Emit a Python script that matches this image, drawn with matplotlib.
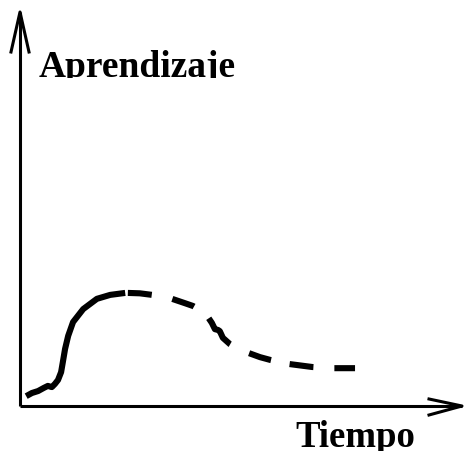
import matplotlib
matplotlib.use("Agg")
import matplotlib.pyplot as plt
from matplotlib.patches import Rectangle

# Curve values (tiempo, aprendizaje), both in 0..10 units
t_solid = [0.14, 0.27, 0.41, 0.54, 0.63, 0.72, 0.79, 0.86, 0.93, 0.97, 1.02,
           1.09, 1.20, 1.43, 1.74, 2.04, 2.38]
l_solid = [0.25, 0.33, 0.38, 0.46, 0.51, 0.48, 0.56, 0.66, 0.86, 1.12, 1.45,
           1.78, 2.13, 2.46, 2.72, 2.82, 2.87]

t_dash = [2.44, 2.71, 2.99, 3.24, 3.44, 3.73, 3.91, 4.07, 4.25, 4.34, 4.41,
          4.48, 4.52, 4.59, 4.75, 4.98, 5.16, 5.43, 5.66, 6.06, 6.61, 7.06, 7.58]
l_dash = [2.87, 2.86, 2.82, 2.77, 2.72, 2.61, 2.54, 2.44, 2.26, 2.11, 1.95,
          1.93, 1.90, 1.73, 1.57, 1.42, 1.35, 1.24, 1.17, 1.07, 0.99, 0.96, 0.96]

x_label = "Tiempo"
y_label = "Aprendizaje"

plt.rcParams['lines.scale_dashes'] = False

W, H = 466, 452
fig = plt.figure(figsize=(W / 100, H / 100), dpi=100)
ax = fig.add_axes([20 / W, (H - 407) / H, 442 / W, 394 / H])
ax.set_xlim(0, 10)
ax.set_ylim(0, 10)
ax.axis('off')

# hand-drawn look: uneven dashes (pixel lengths -> points)
dash_px = [24, 21, 23, 19, 35, 21, 23, 19, 24, 21, 24, 60]
dash_pt = [d * 0.72 for d in dash_px]

# curve
ax.plot(t_solid, l_solid, color='black', lw=4.4, solid_capstyle='butt',
        solid_joinstyle='round', clip_on=False)
ax.plot(t_dash, l_dash, color='black', lw=4.4, dashes=dash_pt,
        dash_capstyle='butt', dash_joinstyle='round', clip_on=False)

# axes with open arrowheads
lw_ax = 2.2
ax.plot([0, 1], [0, 0], color='black', lw=lw_ax, transform=ax.transAxes,
        clip_on=False, solid_capstyle='butt')
ax.plot([0, 0], [0, 1], color='black', lw=lw_ax, transform=ax.transAxes,
        clip_on=False, solid_capstyle='butt')
# y arrow head
ax.plot([-9 / 442, 0, 9 / 442], [1 - 40 / 394, 1, 1 - 40 / 394], color='black',
        lw=lw_ax, transform=ax.transAxes, clip_on=False)
# x arrow head
ax.plot([1 - 33 / 442, 1, 1 - 33 / 442], [7 / 394, 0, -9 / 394], color='black',
        lw=lw_ax, transform=ax.transAxes, clip_on=False)

# labels
ylab = fig.text(39 / W, 1 - 77 / H, y_label, fontfamily='Liberation Serif',
                fontweight='bold', fontsize=27, va='baseline', ha='left')
clip = Rectangle((0, 1 - 79 / H), 1, 79 / H, transform=fig.transFigure,
                 facecolor='none', edgecolor='none')
fig.add_artist(clip)
ylab.set_clip_path(clip)

fig.text(295 / W, 1 - 447 / H, x_label, fontfamily='Liberation Serif',
         fontweight='bold', fontsize=26.5, va='baseline', ha='left')

fig.savefig("out.png", dpi=100)
